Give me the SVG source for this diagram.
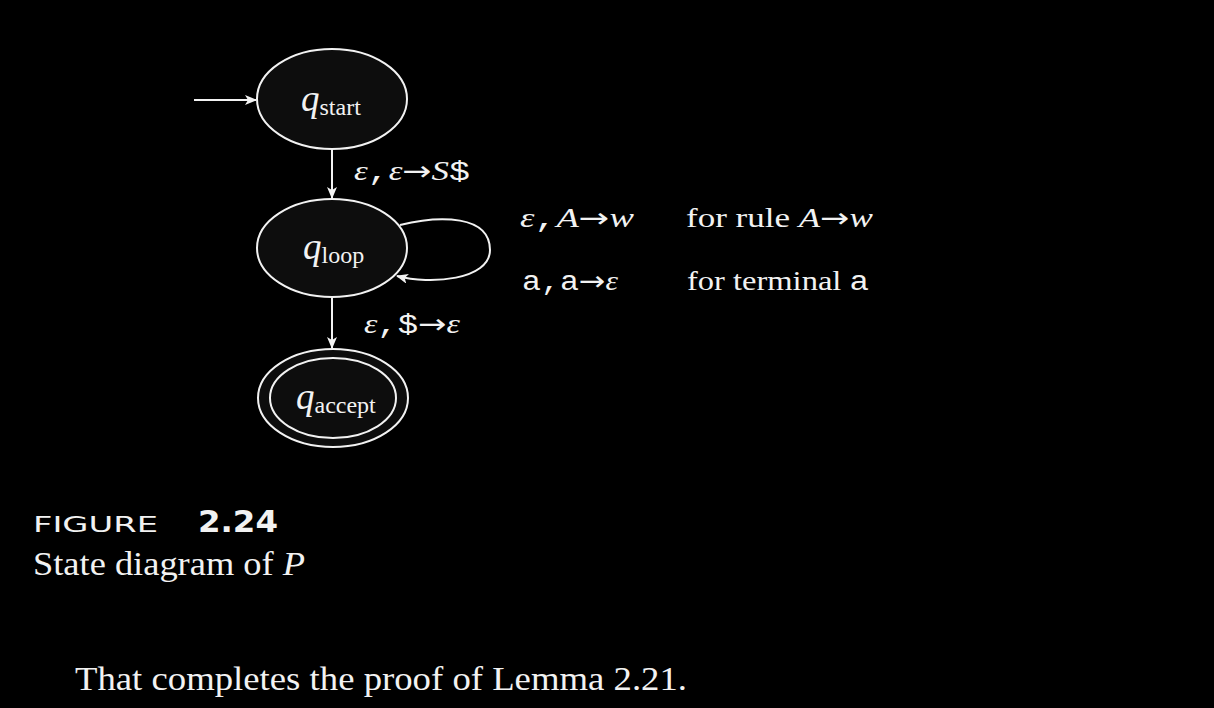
<svg xmlns="http://www.w3.org/2000/svg" width="1214" height="708" viewBox="0 0 1214 708">
<style>
.st{fill:#0d0d0d;stroke:#f2f2f2;stroke-width:2}
.ed{fill:none;stroke:#f2f2f2;stroke-width:2}
.t{fill:#f2f2f2;font-family:"Liberation Serif",serif}
.q{font-style:italic;font-size:37px}
.sub{font-size:24px;font-style:normal}
.lab{font-size:27px}
.m{font-family:"Liberation Mono",monospace}
.i{font-style:italic}
.ar{font-family:"DejaVu Sans",sans-serif;font-style:normal}
</style>
<defs>
<marker id="ah" viewBox="0 0 12 10" refX="11" refY="5" markerWidth="12" markerHeight="10" markerUnits="userSpaceOnUse" orient="auto">
<path d="M0,0 L12,5 L0,10 L3,5 Z" fill="#f2f2f2"/>
</marker>
</defs>
<rect width="1214" height="708" fill="#000"/>
<g id="edges">
<line class="ed" x1="194" y1="100" x2="256" y2="100" marker-end="url(#ah)"/>
<line class="ed" x1="332" y1="148" x2="332" y2="198" marker-end="url(#ah)"/>
<line class="ed" x1="332" y1="297" x2="332" y2="348" marker-end="url(#ah)"/>
<path class="ed" d="M400,225 C440,215 490,215 490,250 C490,280 430,285 397,276" marker-end="url(#ah)"/>
</g>
<g id="q_start">
<ellipse class="st" cx="332" cy="99" rx="75" ry="50"/>
<text class="t q" x="301" y="111">q<tspan class="sub" dy="4">start</tspan></text>
</g>
<g id="q_loop">
<ellipse class="st" cx="332" cy="248" rx="75" ry="49"/>
<text class="t q" x="303" y="259">q<tspan class="sub" dy="4">loop</tspan></text>
</g>
<g id="q_accept">
<ellipse class="st" cx="333" cy="398" rx="75" ry="49"/>
<ellipse class="ed" cx="333" cy="398" rx="63" ry="40"/>
<text class="t q" x="296" y="409">q<tspan class="sub" dy="4">accept</tspan></text>
</g>
<g id="labels">
<text class="t lab" x="354" y="180" textLength="116" lengthAdjust="spacingAndGlyphs"><tspan class="i">ε</tspan><tspan class="m">,</tspan><tspan class="i">ε</tspan><tspan class="ar">→</tspan><tspan class="i">S</tspan><tspan class="m">$</tspan></text>
<text class="t lab" x="364" y="333" textLength="96" lengthAdjust="spacingAndGlyphs"><tspan class="i">ε</tspan><tspan class="m">,$</tspan><tspan class="ar">→</tspan><tspan class="i">ε</tspan></text>
<text class="t lab" x="520" y="227" textLength="114" lengthAdjust="spacingAndGlyphs"><tspan class="i">ε</tspan><tspan class="m">,</tspan><tspan class="i">A</tspan><tspan class="ar">→</tspan><tspan class="i">w</tspan></text>
<text class="t lab" x="686" y="227" textLength="187" lengthAdjust="spacingAndGlyphs">for rule <tspan class="i">A</tspan><tspan class="ar">→</tspan><tspan class="i">w</tspan></text>
<text class="t lab" x="522" y="290" textLength="96" lengthAdjust="spacingAndGlyphs"><tspan class="m">a,a</tspan><tspan class="ar">→</tspan><tspan class="i">ε</tspan></text>
<text class="t lab" x="687" y="290" textLength="182" lengthAdjust="spacingAndGlyphs">for terminal <tspan class="m">a</tspan></text>
</g>
<g id="caption">
<text x="33" y="532" fill="#f2f2f2" font-family="DejaVu Sans,sans-serif" font-size="21" textLength="125" lengthAdjust="spacingAndGlyphs">FIGURE</text>
<text x="198" y="532" fill="#f2f2f2" font-family="DejaVu Sans,sans-serif" font-weight="bold" font-size="31" textLength="80" lengthAdjust="spacingAndGlyphs">2.24</text>
<text class="t" x="33" y="575" font-size="34" textLength="272" lengthAdjust="spacingAndGlyphs">State diagram of <tspan class="i">P</tspan></text>
<text class="t" x="75" y="690" font-size="34" textLength="612" lengthAdjust="spacingAndGlyphs">That completes the proof of Lemma 2.21.</text>
</g>
</svg>
